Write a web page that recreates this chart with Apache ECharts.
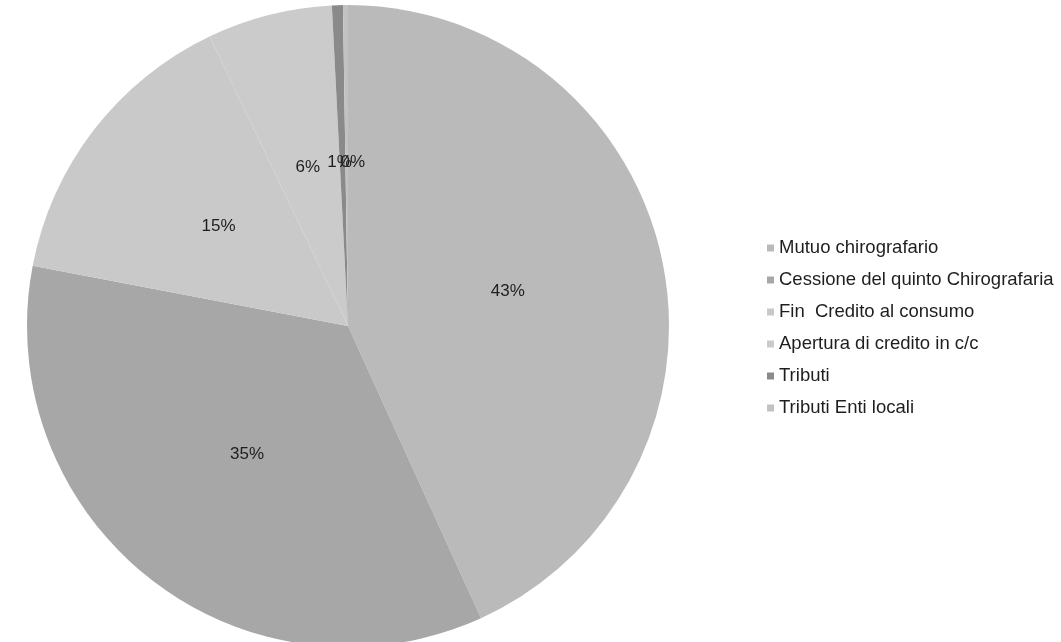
<!DOCTYPE html>
<html>
<head>
<meta charset="utf-8">
<script src="https://cdn.jsdelivr.net/npm/echarts@6/dist/echarts.min.js"></script>
<style>html,body{margin:0;padding:0;background:#fff}#c{width:1061px;height:642px}</style>
</head>
<body>
<div id="c"></div>
<script>
const categories = ["Mutuo chirografario", "Cessione del quinto Chirografaria", "Fin  Credito al consumo", "Apertura di credito in c/c", "Tributi", "Tributi Enti locali"];
const values = [43.2, 34.8, 14.9, 6.3, 0.55, 0.25];
const colors = ["#bababa", "#a7a7a7", "#c9c9c9", "#cbcbcb", "#8a8a8a", "#c2c2c2"];

const chart = echarts.init(document.getElementById('c'));
chart.setOption({
  backgroundColor: '#ffffff',
  animation: false,
  legend: {
    orient: 'vertical',
    left: 762,
    top: 233,
    icon: 'rect',
    itemWidth: 7,
    itemHeight: 7,
    itemGap: 12,
    textStyle: { fontFamily: 'Liberation Sans, Arial, sans-serif', fontSize: 18.5, color: '#1e1e1e', lineHeight: 20 },
    data: categories
  },
  series: [{
    type: 'pie',
    center: [348, 326],
    radius: 321,
    startAngle: 90,
    clockwise: true,
    minAngle: 0,
    avoidLabelOverlap: false,
    labelLayout: { hideOverlap: false },
    data: categories.map((n, i) => {
      const d = { name: n, value: values[i], itemStyle: { color: colors[i] } };
      if (i === 5) d.label = { offset: [6, 0] };
      if (i === 4) d.label = { offset: [-3, 0] };
      return d;
    }),
    itemStyle: { borderWidth: 0 },
    label: {
      show: true,
      position: 'inside',
      formatter: p => Math.round(p.value) + '%',
      fontFamily: 'Liberation Sans, Arial, sans-serif',
      fontSize: 17,
      color: '#1e1e1e'
    },
    labelLine: { show: false },
    emphasis: { disabled: true }
  }]
});
</script>
</body>
</html>
